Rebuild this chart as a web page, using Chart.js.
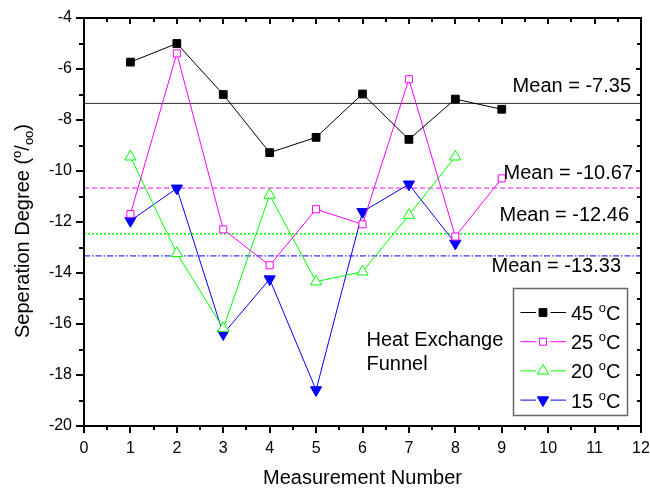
<!DOCTYPE html>
<html><head><meta charset="utf-8">
<script src="https://cdn.jsdelivr.net/npm/chart.js@4.4.1/dist/chart.umd.min.js"></script>
<style>html,body{margin:0;padding:0;background:#fff}</style>
</head><body>
<canvas id="c" width="650" height="489" style="display:block;width:650px;height:489px"></canvas>
<script>
// ---------------- data ----------------
const measurementNumbers = [1, 2, 3, 4, 5, 6, 7, 8, 9];
const temperatures = ['45', '25', '20', '15'];
const values45 = [-5.73, -5.0, -7.0, -9.28, -8.68, -6.98, -8.76, -7.18, -7.58];
const values25 = [-11.69, -5.39, -12.29, -13.70, -11.50, -12.09, -6.40, -12.57, -10.29];
const values20 = [-9.44, -13.23, -16.17, -10.94, -14.34, -13.95, -11.73, -9.44];
const values15 = [-11.95, -10.68, -16.39, -14.24, -18.59, -11.60, -10.52, -12.84];
const meanValues = [-7.35, -10.67, -12.46, -13.33];
const xRange = [0, 12];
const yRange = [-20, -4];
const xTickStep = 1;
const yTickStep = 2;

const FONT = '"Liberation Sans", Arial, sans-serif';
const seriesValues = [values45, values25, values20, values15];
const colors = ['#000000', '#ff00ff', '#00ff00', '#0000ff'];
const meanColors = ['#333333', '#ff00ff', '#00ff00', '#0000ff'];
const meanDashes = [[], [5, 3], [2, 2], [6, 2, 1.5, 2]];
const meanWidths = [1, 1, 1.5, 1];
const markerStyle = [
  {pointStyle: 'rect', radius: 5.5, rotation: 0, bg: '#000000'},
  {pointStyle: 'rect', radius: 5, rotation: 0, bg: '#ffffff'},
  {pointStyle: 'triangle', radius: 6.5, rotation: 0, bg: '#ffffff'},
  {pointStyle: 'triangle', radius: 6.5, rotation: 180, bg: '#0000ff'}
];

const datasets = [];
seriesValues.forEach((vals, i) => {
  datasets.push({
    label: temperatures[i] + ' °C',
    data: vals.map((v, j) => ({x: measurementNumbers[j], y: v})),
    borderColor: colors[i],
    borderWidth: 1,
    pointStyle: markerStyle[i].pointStyle,
    pointRadius: markerStyle[i].radius,
    pointRotation: markerStyle[i].rotation,
    pointBackgroundColor: markerStyle[i].bg,
    pointBorderColor: colors[i],
    pointBorderWidth: 1,
    fill: false,
    tension: 0,
    order: i
  });
});
meanValues.forEach((m, i) => {
  datasets.push({
    label: 'mean' + i,
    data: [{x: xRange[0], y: m}, {x: xRange[1], y: m}],
    borderColor: meanColors[i],
    borderWidth: meanWidths[i],
    borderDash: meanDashes[i],
    pointRadius: 0,
    fill: false,
    order: 10 + i
  });
});

// label anchor offsets (pixels) relative to chart area right and mean line
const meanLabelOffsets = [[-10, -11.5], [-8, -9], [-12, -12.5], [-20, 16.5]];

function drawRich(ctx, pieces, x, y, align) {
  let total = 0;
  pieces.forEach(p => { ctx.font = p.size + 'px ' + FONT; p.w = ctx.measureText(p.t).width; total += p.w; });
  let cx = align === 'center' ? x - total / 2 : (align === 'right' ? x - total : x);
  ctx.textAlign = 'left';
  ctx.textBaseline = 'alphabetic';
  pieces.forEach(p => {
    ctx.font = p.size + 'px ' + FONT;
    ctx.fillText(p.t, cx, y + (p.dy || 0));
    cx += p.w;
  });
}

const decor = {
  id: 'decor',
  afterDatasetsDraw(chart) {
    const {ctx, chartArea: a, scales: {x, y}} = chart;
    ctx.save();
    ctx.strokeStyle = '#000';
    ctx.fillStyle = '#000';
    // frame
    ctx.lineWidth = 2;
    ctx.strokeRect(a.left, a.top, a.right - a.left, a.bottom - a.top);
    // ticks
    ctx.lineWidth = 2;
    ctx.beginPath();
    for (let v = xRange[0]; v <= xRange[1] + 1e-9; v += xTickStep / 2) {
      const px = Math.round(x.getPixelForValue(v));
      const major = Math.abs(v - Math.round(v)) < 1e-9;
      ctx.moveTo(px, a.bottom); ctx.lineTo(px, a.bottom + (major ? 7 : 4));
      ctx.moveTo(px, a.top); ctx.lineTo(px, a.top + (major ? 6 : 4));
    }
    for (let v = yRange[0]; v <= yRange[1] + 1e-9; v += yTickStep / 2) {
      const py = Math.round(y.getPixelForValue(v));
      const major = Math.abs(v / yTickStep - Math.round(v / yTickStep)) < 1e-9;
      ctx.moveTo(a.left, py); ctx.lineTo(a.left - (major ? 8 : 5), py);
      ctx.moveTo(a.right, py); ctx.lineTo(a.right - (major ? 5 : 4), py);
    }
    ctx.stroke();

    // mean labels
    ctx.fillStyle = '#000';
    ctx.font = '20px ' + FONT;
    ctx.textAlign = 'right';
    ctx.textBaseline = 'alphabetic';
    meanValues.forEach((m, i) => {
      const py = y.getPixelForValue(m);
      ctx.fillText('Mean = ' + m.toFixed(2), a.right + meanLabelOffsets[i][0], py + meanLabelOffsets[i][1]);
    });

    // inner note
    ctx.textAlign = 'left';
    ctx.fillText('Heat Exchange', 366.5, 346);
    ctx.fillText('Funnel', 366.5, 370);

    // legend
    const bx = 513.5, by = 288.5, bw = 114, bh = 127;
    ctx.strokeStyle = '#666';
    ctx.lineWidth = 1.5;
    ctx.strokeRect(bx, by, bw, bh);
    temperatures.forEach((t, i) => {
      const ds = chart.data.datasets[i];
      const cy = 312.5 + i * 29.2;
      const mx = 543;
      ctx.strokeStyle = ds.borderColor;
      ctx.lineWidth = 1;
      ctx.beginPath();
      ctx.moveTo(520.5, cy); ctx.lineTo(536, cy);
      ctx.moveTo(550.5, cy); ctx.lineTo(566, cy);
      ctx.stroke();
      ctx.fillStyle = ds.pointBackgroundColor;
      ctx.strokeStyle = ds.pointBorderColor;
      ctx.lineWidth = 1;
      Chart.helpers.drawPoint(ctx, {pointStyle: ds.pointStyle, radius: ds.pointRadius, rotation: ds.pointRotation, borderWidth: 1}, mx, cy);
      ctx.fillStyle = '#000';
      drawRich(ctx, [
        {t: t + ' ', size: 20},
        {t: 'o', size: 13, dy: -8},
        {t: 'C', size: 20}
      ], 571, cy + 7.5, 'left');
    });

    // axis titles
    ctx.fillStyle = '#000';
    ctx.font = '20px ' + FONT;
    ctx.textAlign = 'center';
    ctx.textBaseline = 'alphabetic';
    ctx.fillText('Measurement Number', (a.left + a.right) / 2, 484);

    ctx.save();
    ctx.translate(29, 231);
    ctx.rotate(-Math.PI / 2);
    drawRich(ctx, [
      {t: 'Seperation Degree (', size: 20},
      {t: 'o', size: 13, dy: -8},
      {t: '/', size: 20},
      {t: 'oo', size: 13, dy: 4},
      {t: ')', size: 20}
    ], 0, 0, 'center');
    ctx.restore();
    ctx.restore();
  }
};

new Chart(document.getElementById('c'), {
  type: 'line',
  data: {datasets},
  options: {
    responsive: false,
    animation: false,
    devicePixelRatio: 1,
    layout: {padding: {left: 0, right: 9, top: 18, bottom: 0}},
    plugins: {legend: {display: false}, tooltip: {enabled: false}},
    scales: {
      x: {
        type: 'linear', min: xRange[0], max: xRange[1],
        ticks: {stepSize: xTickStep, color: '#000', font: {size: 16, family: FONT}, padding: 13},
        grid: {display: false, drawTicks: false},
        border: {display: false},
        afterFit: s => { s.height = 63; s.paddingLeft = 0; s.paddingRight = 0; }
      },
      y: {
        type: 'linear', min: yRange[0], max: yRange[1],
        ticks: {stepSize: yTickStep, color: '#000', font: {size: 16, family: FONT}, padding: 12},
        grid: {display: false, drawTicks: false},
        border: {display: false},
        afterFit: s => { s.width = 84; s.paddingTop = 0; s.paddingBottom = 0; }
      }
    }
  },
  plugins: [decor]
});
</script>
</body></html>
